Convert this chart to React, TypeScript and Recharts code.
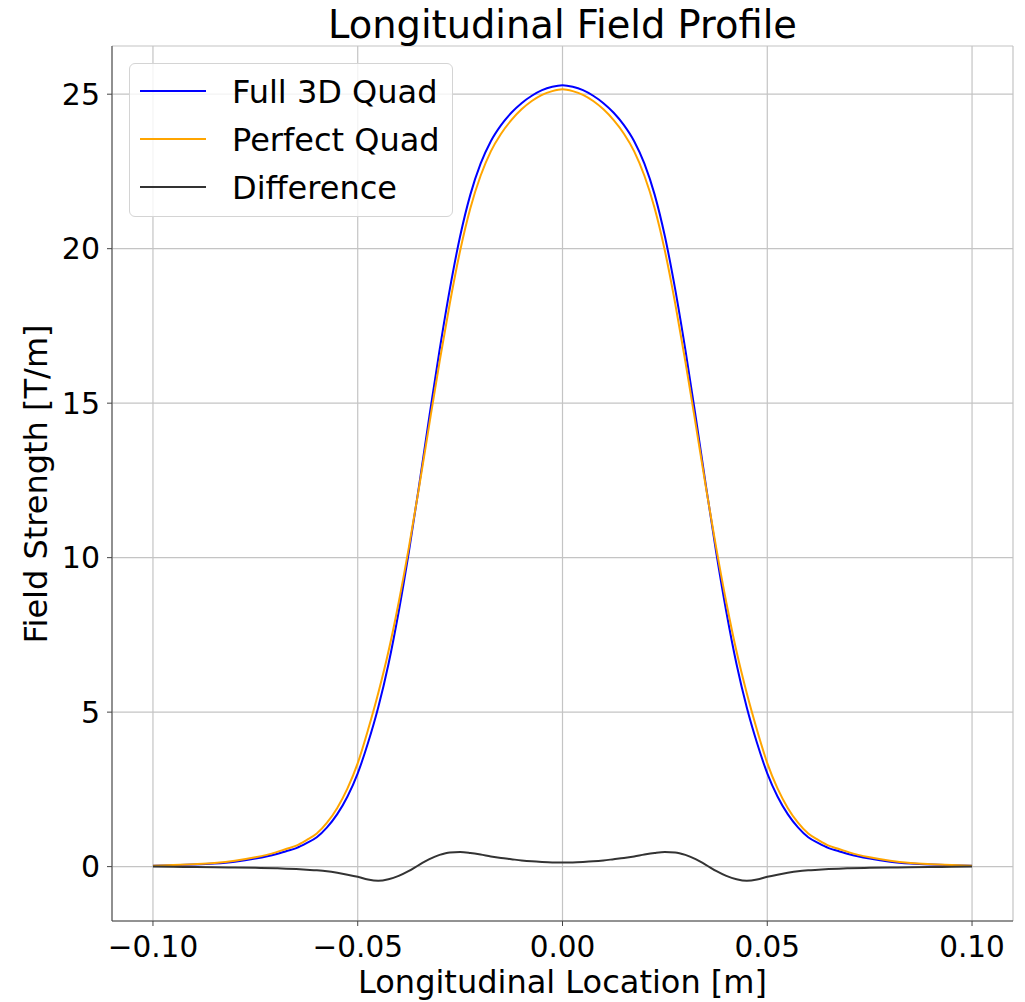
import React from 'react';
import {
  LineChart,
  Line,
  XAxis,
  YAxis,
  CartesianGrid,
  Legend,
} from 'recharts';

// longitudinal positions [m]
const positions = [
  -0.1, -0.095, -0.09, -0.085, -0.08, -0.075, -0.07, -0.0675, -0.065, -0.0625, -0.06, -0.0575,
  -0.055, -0.0525, -0.05, -0.0475, -0.045, -0.0425, -0.04, -0.0375, -0.035, -0.0325,
  -0.03, -0.0275, -0.025, -0.0225, -0.02, -0.0175, -0.015, -0.0125, -0.01, -0.0075,
  -0.005, -0.0025,
  0,
  0.0025, 0.005,
  0.0075, 0.01, 0.0125, 0.015, 0.0175, 0.02, 0.0225, 0.025, 0.0275, 0.03,
  0.0325, 0.035, 0.0375, 0.04, 0.0425, 0.045, 0.0475, 0.05, 0.0525, 0.055,
  0.0575, 0.06, 0.0625, 0.065, 0.0675, 0.07, 0.075, 0.08, 0.085, 0.09, 0.095, 0.1,
];

// field gradient [T/m]
const fullQuad = [
  0.03, 0.042, 0.065, 0.1, 0.16, 0.26, 0.4, 0.5, 0.6, 0.76, 0.95, 1.27,
  1.7, 2.27, 3.02, 4.0, 5.15, 6.55, 8.25, 10.2, 12.35, 14.58,
  16.73, 18.7, 20.4, 21.75, 22.75, 23.48, 24.0, 24.4, 24.71, 24.95,
  25.13, 25.24,
  25.29,
  25.24, 25.13,
  24.95, 24.71, 24.4, 24.0, 23.48, 22.75, 21.75, 20.4, 18.7, 16.73,
  14.58, 12.35, 10.2, 8.25, 6.55, 5.15, 4.0, 3.02, 2.27, 1.7,
  1.27, 0.95, 0.76, 0.6, 0.5, 0.4, 0.26, 0.16, 0.1, 0.065, 0.042, 0.03,
];

const perfectQuad = [
  0.03, 0.05, 0.08, 0.12, 0.19, 0.3, 0.46, 0.57, 0.68, 0.86, 1.07, 1.42,
  1.9, 2.53, 3.35, 4.42, 5.61, 6.96, 8.55, 10.34, 12.29, 14.34,
  16.35, 18.24, 19.93, 21.31, 22.36, 23.15, 23.72, 24.16, 24.51, 24.78,
  24.98, 25.1,
  25.16,
  25.1, 24.98,
  24.78, 24.51, 24.16, 23.72, 23.15, 22.36, 21.31, 19.93, 18.24, 16.35,
  14.34, 12.29, 10.34, 8.55, 6.96, 5.61, 4.42, 3.35, 2.53, 1.9,
  1.42, 1.07, 0.86, 0.68, 0.57, 0.46, 0.3, 0.19, 0.12, 0.08, 0.05, 0.03,
];

const difference = [
  0, -0.006, -0.012, -0.02, -0.03, -0.04, -0.055, -0.065, -0.08, -0.1, -0.12, -0.15,
  -0.2, -0.26, -0.33, -0.42, -0.46, -0.41, -0.3, -0.14, 0.06, 0.24,
  0.38, 0.46, 0.47, 0.44, 0.39, 0.33, 0.28, 0.24, 0.2, 0.17,
  0.15, 0.135,
  0.13,
  0.135, 0.15,
  0.17, 0.2, 0.24, 0.28, 0.33, 0.39, 0.44, 0.47, 0.46, 0.38,
  0.24, 0.06, -0.14, -0.3, -0.41, -0.46, -0.42, -0.33, -0.26, -0.2,
  -0.15, -0.12, -0.1, -0.08, -0.065, -0.055, -0.04, -0.03, -0.02, -0.012, -0.006, 0,
];

const seriesNames = ['Full 3D Quad', 'Perfect Quad', 'Difference'];
const xTicks = [-0.1, -0.05, 0, 0.05, 0.1];
const yTicks = [0, 5, 10, 15, 20, 25];

const FONT = 'DejaVu Sans';
const AXIS = '#444';
const GRID = '#c4c4c4';

const chartData = positions.map((x, i) => ({
  x,
  full: fullQuad[i],
  perfect: perfectQuad[i],
  diff: difference[i],
}));

const fmtX = (v: number) => v.toFixed(2).replace('-', '\u2212');

const LegendBox = (props: any) => {
  const items = [...(props.payload || [])].sort(
    (a: any, b: any) => seriesNames.indexOf(a.value) - seriesNames.indexOf(b.value)
  );
  return (
    <div
      style={{
        width: 322,
        height: 152,
        border: '1px solid #d4d4d4',
        borderRadius: 6,
        background: 'rgba(255,255,255,0.8)',
        position: 'relative',
        fontFamily: FONT,
        fontSize: 32,
        color: '#000',
        textAlign: 'left',
      }}
    >
      {items.map((item: any, i: number) => (
        <div key={item.value} style={{ position: 'absolute', left: 0, top: 27 + i * 48 }}>
          <div
            style={{
              position: 'absolute',
              left: 10,
              top: -1,
              width: 66,
              height: 2,
              background: item.color,
            }}
          />
          <div style={{ position: 'absolute', left: 102, top: -15, lineHeight: '32px', whiteSpace: 'nowrap' }}>
            {item.value}
          </div>
        </div>
      ))}
    </div>
  );
};

export default function App() {
  return (
    <div style={{ position: 'absolute', left: 0, top: 0, width: 1025, height: 1002, background: '#fff' }}>
      <LineChart
        width={1025}
        height={1002}
        data={chartData}
        margin={{ top: 46, right: 12, bottom: 0, left: 0 }}
        style={{ fontFamily: FONT }}
      >
        <CartesianGrid stroke={GRID} strokeWidth={1.2} />
        <XAxis
          dataKey="x"
          type="number"
          domain={[-0.11, 0.11]}
          allowDataOverflow
          ticks={xTicks}
          interval={0}
          tickFormatter={fmtX}
          height={81}
          tickSize={5}
          tickMargin={10}
          stroke={AXIS}
          tick={{ fontSize: 29.5, fill: '#000', fontFamily: FONT }}
        />
        <XAxis
          xAxisId="top"
          dataKey="x"
          type="number"
          orientation="top"
          domain={[-0.11, 0.11]}
          allowDataOverflow
          height={0}
          tick={false}
          tickLine={false}
          stroke={AXIS}
        />
        <YAxis
          type="number"
          domain={[-1.76, 26.56]}
          allowDataOverflow
          ticks={yTicks}
          interval={0}
          width={112}
          tickSize={5}
          tickMargin={7}
          stroke={AXIS}
          tick={{ fontSize: 30, fill: '#000', fontFamily: FONT }}
        />
        <YAxis
          yAxisId="right"
          orientation="right"
          type="number"
          domain={[-1.76, 26.56]}
          allowDataOverflow
          width={0}
          tick={false}
          tickLine={false}
          stroke={AXIS}
        />
        <Legend
          layout="horizontal"
          verticalAlign="middle"
          align="center"
          content={<LegendBox />}
          wrapperStyle={{ position: 'absolute', left: 129, top: 63, width: 'auto', height: 'auto' }}
        />
        <Line
          type="monotone"
          dataKey="full"
          name={seriesNames[0]}
          stroke="#0000ff"
          strokeWidth={2}
          dot={false}
          isAnimationActive={false}
        />
        <Line
          type="monotone"
          dataKey="perfect"
          name={seriesNames[1]}
          stroke="#ffa500"
          strokeWidth={2}
          dot={false}
          isAnimationActive={false}
        />
        <Line
          type="monotone"
          dataKey="diff"
          name={seriesNames[2]}
          stroke="#333333"
          strokeWidth={2}
          dot={false}
          isAnimationActive={false}
        />
      </LineChart>

      {/* title and axis labels */}
      <div
        style={{
          position: 'absolute',
          left: 112,
          width: 901,
          top: 6,
          textAlign: 'center',
          fontFamily: FONT,
          fontSize: 38.4,
          lineHeight: 1,
          color: '#000',
          whiteSpace: 'nowrap',
        }}
      >
        Longitudinal Field Profile
      </div>
      <div
        style={{
          position: 'absolute',
          left: 112,
          width: 901,
          top: 970,
          height: 26,
          textAlign: 'center',
          fontFamily: FONT,
          fontSize: 32,
          lineHeight: 0.8,
          color: '#000',
          whiteSpace: 'nowrap',
        }}
      >
        Longitudinal Location [m]
      </div>
      <div
        style={{
          position: 'absolute',
          left: 36 - 300,
          top: 484 - 16,
          width: 600,
          height: 32,
          textAlign: 'center',
          fontFamily: FONT,
          fontSize: 32,
          lineHeight: 1,
          color: '#000',
          whiteSpace: 'nowrap',
          transform: 'rotate(-90deg)',
          transformOrigin: '50% 50%',
        }}
      >
        Field Strength [T/m]
      </div>
    </div>
  );
}
